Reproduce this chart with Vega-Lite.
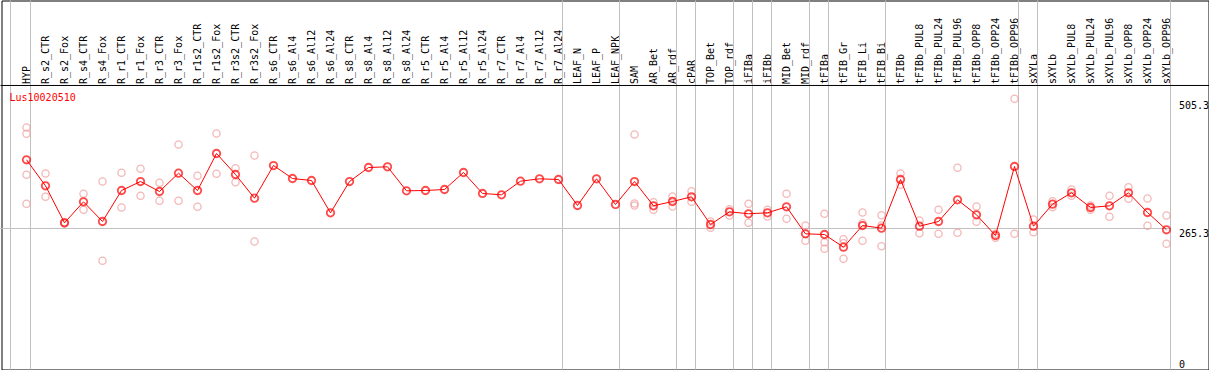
{
  "$schema": "https://vega.github.io/schema/vega-lite/v6.json",
  "width": 1207,
  "height": 369,
  "autosize": "none",
  "padding": {"left": 1.5, "top": 0.5, "right": 0.5, "bottom": 0.5},
  "background": "white",
  "config": {
    "view": {"stroke": "black", "strokeWidth": 1},
    "font": "DejaVu Sans Mono",
    "axis": {"labelFont": "DejaVu Sans Mono", "labelFontSize": 10, "labelColor": "black", "ticks": false, "grid": false, "title": null, "labelOverlap": false, "labelBound": false, "labelFlush": false}
  },
  "datasets": {
    "bounds": [
      {"cond": "HYP"}, {"cond": "R_r7_Al24"}, {"cond": "LEAF_NPK"}, {"cond": "AR_rdf"}, {"cond": "cPAR"},
      {"cond": "TOP_rdf"}, {"cond": "iFIBa"}, {"cond": "iFIBb"}, {"cond": "MID_rdf"}, {"cond": "tFIBa"},
      {"cond": "tFIB_Bi"}, {"cond": "tFIBb_OPP96"}, {"cond": "sXYLa"}, {"cond": "sXYLb_OPP96"}
    ],
    "means": [
      {"cond": "HYP", "value": 394.6},
      {"cond": "R_s2_CTR", "value": 345.6},
      {"cond": "R_s2_Fox", "value": 276.0},
      {"cond": "R_s4_CTR", "value": 315.5},
      {"cond": "R_s4_Fox", "value": 278.5},
      {"cond": "R_r1_CTR", "value": 336.8},
      {"cond": "R_r1_Fox", "value": 353.7},
      {"cond": "R_r3_CTR", "value": 334.9},
      {"cond": "R_r3_Fox", "value": 369.4},
      {"cond": "R_r1s2_CTR", "value": 336.8},
      {"cond": "R_r1s2_Fox", "value": 406.4},
      {"cond": "R_r3s2_CTR", "value": 366.9},
      {"cond": "R_r3s2_Fox", "value": 322.3},
      {"cond": "R_s6_CTR", "value": 383.8},
      {"cond": "R_s6_Al4", "value": 359.4},
      {"cond": "R_s6_Al12", "value": 355.6},
      {"cond": "R_s6_Al24", "value": 294.8},
      {"cond": "R_s8_CTR", "value": 353.7},
      {"cond": "R_s8_Al4", "value": 380.1},
      {"cond": "R_s8_Al12", "value": 381.4},
      {"cond": "R_s8_Al24", "value": 336.2},
      {"cond": "R_r5_CTR", "value": 336.8},
      {"cond": "R_r5_Al4", "value": 338.7},
      {"cond": "R_r5_Al12", "value": 370.7},
      {"cond": "R_r5_Al24", "value": 331.2},
      {"cond": "R_r7_CTR", "value": 328.7},
      {"cond": "R_r7_Al4", "value": 354.3},
      {"cond": "R_r7_Al12", "value": 358.8},
      {"cond": "R_r7_Al24", "value": 357.5},
      {"cond": "LEAF_N", "value": 308.6},
      {"cond": "LEAF_P", "value": 358.8},
      {"cond": "LEAF_NPK", "value": 310.5},
      {"cond": "SAM", "value": 353.7},
      {"cond": "AR_Bet", "value": 308.0},
      {"cond": "AR_rdf", "value": 316.1},
      {"cond": "cPAR", "value": 324.9},
      {"cond": "TOP_Bet", "value": 272.8},
      {"cond": "TOP_rdf", "value": 296.7},
      {"cond": "iFIBa", "value": 293.0},
      {"cond": "iFIBb", "value": 294.8},
      {"cond": "MID_Bet", "value": 306.1},
      {"cond": "MID_rdf", "value": 255.3},
      {"cond": "tFIBa", "value": 254.0},
      {"cond": "tFIB_Gr", "value": 230.1},
      {"cond": "tFIB_Li", "value": 270.9},
      {"cond": "tFIB_Bi", "value": 265.9},
      {"cond": "tFIBb", "value": 357.5},
      {"cond": "tFIBb_PUL8", "value": 269.6},
      {"cond": "tFIBb_PUL24", "value": 278.5},
      {"cond": "tFIBb_PUL96", "value": 319.3},
      {"cond": "tFIBb_OPP8", "value": 291.1},
      {"cond": "tFIBb_OPP24", "value": 252.1},
      {"cond": "tFIBb_OPP96", "value": 382.0},
      {"cond": "sXYLa", "value": 269.6},
      {"cond": "sXYLb", "value": 311.0},
      {"cond": "sXYLb_PUL8", "value": 332.5},
      {"cond": "sXYLb_PUL24", "value": 304.8},
      {"cond": "sXYLb_PUL96", "value": 308.0},
      {"cond": "sXYLb_OPP8", "value": 332.5},
      {"cond": "sXYLb_OPP24", "value": 295.4},
      {"cond": "sXYLb_OPP96", "value": 262.9}
    ],
    "reps": [
      {"cond": "HYP", "value": 455.3}, {"cond": "HYP", "value": 443.5}, {"cond": "HYP", "value": 366.3}, {"cond": "HYP", "value": 311.8},
      {"cond": "R_s2_CTR", "value": 368.8}, {"cond": "R_s2_CTR", "value": 325.0},
      {"cond": "R_s2_Fox", "value": 277.1}, {"cond": "R_s2_Fox", "value": 274.7},
      {"cond": "R_s4_CTR", "value": 330.6}, {"cond": "R_s4_CTR", "value": 300.5},
      {"cond": "R_s4_Fox", "value": 353.7}, {"cond": "R_s4_Fox", "value": 204.5},
      {"cond": "R_r1_CTR", "value": 370.1}, {"cond": "R_r1_CTR", "value": 304.8},
      {"cond": "R_r1_Fox", "value": 377.6}, {"cond": "R_r1_Fox", "value": 326.8},
      {"cond": "R_r3_CTR", "value": 351.3}, {"cond": "R_r3_CTR", "value": 317.4},
      {"cond": "R_r3_Fox", "value": 423.3}, {"cond": "R_r3_Fox", "value": 317.4},
      {"cond": "R_r1s2_CTR", "value": 364.5}, {"cond": "R_r1s2_CTR", "value": 306.1},
      {"cond": "R_r1s2_Fox", "value": 444.0}, {"cond": "R_r1s2_Fox", "value": 368.2},
      {"cond": "R_r3s2_CTR", "value": 378.8}, {"cond": "R_r3s2_CTR", "value": 352.4},
      {"cond": "R_r3s2_Fox", "value": 402.7}, {"cond": "R_r3s2_Fox", "value": 240.8},
      {"cond": "SAM", "value": 442.2}, {"cond": "SAM", "value": 312.3}, {"cond": "SAM", "value": 308.6},
      {"cond": "AR_Bet", "value": 314.8}, {"cond": "AR_Bet", "value": 300.5},
      {"cond": "AR_rdf", "value": 325.5}, {"cond": "AR_rdf", "value": 306.7},
      {"cond": "cPAR", "value": 335.5}, {"cond": "cPAR", "value": 315.5},
      {"cond": "TOP_Bet", "value": 278.5}, {"cond": "TOP_Bet", "value": 266.6},
      {"cond": "TOP_rdf", "value": 301.6}, {"cond": "TOP_rdf", "value": 289.8},
      {"cond": "iFIBa", "value": 311.8}, {"cond": "iFIBa", "value": 276.0},
      {"cond": "iFIBb", "value": 300.5}, {"cond": "iFIBb", "value": 287.9},
      {"cond": "MID_Bet", "value": 330.6}, {"cond": "MID_Bet", "value": 283.5},
      {"cond": "MID_rdf", "value": 270.9}, {"cond": "MID_rdf", "value": 242.2},
      {"cond": "tFIBa", "value": 293.0}, {"cond": "tFIBa", "value": 239.5}, {"cond": "tFIBa", "value": 227.1},
      {"cond": "tFIB_Gr", "value": 245.2}, {"cond": "tFIB_Gr", "value": 237.6}, {"cond": "tFIB_Gr", "value": 208.3},
      {"cond": "tFIB_Li", "value": 295.4}, {"cond": "tFIB_Li", "value": 275.3}, {"cond": "tFIB_Li", "value": 242.2},
      {"cond": "tFIB_Bi", "value": 290.3}, {"cond": "tFIB_Bi", "value": 270.9}, {"cond": "tFIB_Bi", "value": 232.0},
      {"cond": "tFIBb", "value": 368.8}, {"cond": "tFIBb", "value": 347.5},
      {"cond": "tFIBb_PUL8", "value": 280.3}, {"cond": "tFIBb_PUL8", "value": 256.5},
      {"cond": "tFIBb_PUL24", "value": 300.5}, {"cond": "tFIBb_PUL24", "value": 255.3},
      {"cond": "tFIBb_PUL96", "value": 379.5}, {"cond": "tFIBb_PUL96", "value": 257.2},
      {"cond": "tFIBb_OPP8", "value": 306.7}, {"cond": "tFIBb_OPP8", "value": 277.9},
      {"cond": "tFIBb_OPP24", "value": 255.3}, {"cond": "tFIBb_OPP24", "value": 247.8},
      {"cond": "tFIBb_OPP96", "value": 509.3}, {"cond": "tFIBb_OPP96", "value": 255.3},
      {"cond": "sXYLa", "value": 282.2}, {"cond": "sXYLa", "value": 258.3},
      {"cond": "sXYLb", "value": 316.7}, {"cond": "sXYLb", "value": 305.4},
      {"cond": "sXYLb_PUL8", "value": 338.7}, {"cond": "sXYLb_PUL8", "value": 326.8},
      {"cond": "sXYLb_PUL24", "value": 308.6}, {"cond": "sXYLb_PUL24", "value": 300.5},
      {"cond": "sXYLb_PUL96", "value": 326.8}, {"cond": "sXYLb_PUL96", "value": 287.3},
      {"cond": "sXYLb_OPP8", "value": 343.0}, {"cond": "sXYLb_OPP8", "value": 321.2},
      {"cond": "sXYLb_OPP24", "value": 321.7}, {"cond": "sXYLb_OPP24", "value": 270.4},
      {"cond": "sXYLb_OPP96", "value": 289.8}, {"cond": "sXYLb_OPP96", "value": 236.5}
    ]
  },
  "encoding": {
    "x": {
      "field": "cond", "type": "nominal", "sort": null,
      "scale": {
        "type": "point", "padding": 0, "range": [25, 1165],
        "domain": ["HYP","R_s2_CTR","R_s2_Fox","R_s4_CTR","R_s4_Fox","R_r1_CTR","R_r1_Fox","R_r3_CTR","R_r3_Fox","R_r1s2_CTR","R_r1s2_Fox","R_r3s2_CTR","R_r3s2_Fox","R_s6_CTR","R_s6_Al4","R_s6_Al12","R_s6_Al24","R_s8_CTR","R_s8_Al4","R_s8_Al12","R_s8_Al24","R_r5_CTR","R_r5_Al4","R_r5_Al12","R_r5_Al24","R_r7_CTR","R_r7_Al4","R_r7_Al12","R_r7_Al24","LEAF_N","LEAF_P","LEAF_NPK","SAM","AR_Bet","AR_rdf","cPAR","TOP_Bet","TOP_rdf","iFIBa","iFIBb","MID_Bet","MID_rdf","tFIBa","tFIB_Gr","tFIB_Li","tFIB_Bi","tFIBb","tFIBb_PUL8","tFIBb_PUL24","tFIBb_PUL96","tFIBb_OPP8","tFIBb_OPP24","tFIBb_OPP96","sXYLa","sXYLb","sXYLb_PUL8","sXYLb_PUL24","sXYLb_PUL96","sXYLb_OPP8","sXYLb_OPP24","sXYLb_OPP96"]
      },
      "axis": {"orient": "top", "offset": -85, "labelAngle": -90, "domain": false, "labelPadding": 2, "title": null}
    }
  },
  "layer": [
    {
      "data": {"name": "bounds"},
      "mark": {"type": "rule", "color": "#c0c0c0", "strokeWidth": 1, "xOffset": 4}
    },
    {
      "data": {"values": [{}]},
      "mark": {"type": "rule", "color": "#c0c0c0", "strokeWidth": 1, "xOffset": -16},
      "encoding": {
        "x": {"datum": "HYP", "type": "nominal"}
      }
    },
    {
      "data": {"values": [{}]},
      "mark": {"type": "rule", "color": "black", "strokeWidth": 1, "xOffset": -26, "x2Offset": 43},
      "encoding": {
        "x": {"datum": "HYP", "type": "nominal"},
        "x2": {"datum": "sXYLb_OPP96"},
        "y": {"datum": 534.4, "type": "quantitative", "scale": {"domain": [0, 694.3], "nice": false, "zero": false}}
      }
    },
    {
      "data": {"values": [{}]},
      "mark": {"type": "rule", "color": "#c0c0c0", "strokeWidth": 1, "xOffset": -30, "x2Offset": 4},
      "encoding": {
        "x": {"datum": "HYP", "type": "nominal"},
        "x2": {"datum": "sXYLb_OPP96"},
        "y": {"datum": 265.3, "type": "quantitative", "scale": {"domain": [0, 694.3], "nice": false, "zero": false}}
      }
    },
    {
      "data": {"values": [{"label": "Lus10020510"}]},
      "mark": {"type": "text", "color": "red", "font": "DejaVu Sans Mono", "fontSize": 10, "align": "left", "baseline": "alphabetic", "xOffset": -17},
      "encoding": {
        "x": {"datum": "HYP", "type": "nominal"},
        "y": {"datum": 505.3, "type": "quantitative", "scale": {"domain": [0, 694.3], "nice": false, "zero": false}},
        "text": {"field": "label"}
      }
    },
    {
      "data": {"name": "reps"},
      "mark": {"type": "point", "shape": "circle", "filled": false, "stroke": "#f09a9a", "strokeWidth": 1.3, "size": 52},
      "encoding": {
        "y": {"field": "value", "type": "quantitative", "scale": {"domain": [0, 694.3], "nice": false, "zero": false}}
      }
    },
    {
      "data": {"name": "means"},
      "mark": {"type": "line", "stroke": "red", "strokeWidth": 1},
      "encoding": {
        "y": {"field": "value", "type": "quantitative", "scale": {"domain": [0, 694.3], "nice": false, "zero": false},
          "axis": {"orient": "right", "offset": -30, "values": [0, 265.3, 505.3], "labelExpr": "'' + datum.value", "domain": false, "labelAlign": "left", "labelPadding": 0, "title": null,
            "labelBaseline": {"condition": {"test": "datum.value == 0", "value": "bottom"}, "value": "top"}}
        }
      }
    },
    {
      "data": {"name": "means"},
      "mark": {"type": "point", "shape": "circle", "filled": false, "stroke": "red", "strokeWidth": 1.8, "size": 56},
      "encoding": {
        "y": {"field": "value", "type": "quantitative", "scale": {"domain": [0, 694.3], "nice": false, "zero": false}}
      }
    }
  ]
}
